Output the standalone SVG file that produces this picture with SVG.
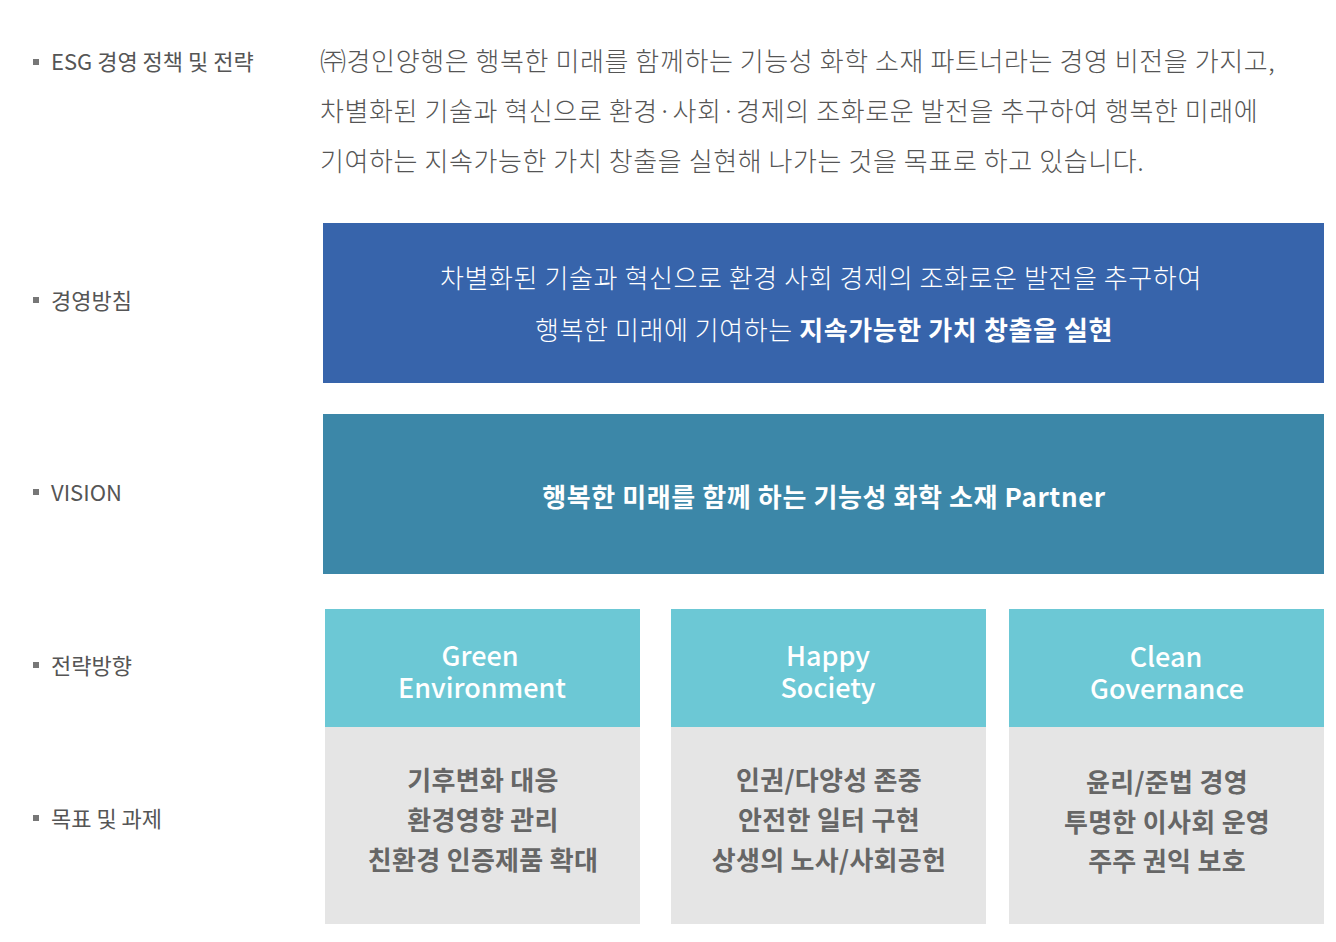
<svg xmlns="http://www.w3.org/2000/svg" width="1336" height="942" viewBox="0 0 1336 942">
<style>
text{font-family:"Noto Sans CJK KR","Noto Sans",sans-serif;}
.lbl{font-size:22px;fill:#555555;}
.bul{fill:#777777;}
.para{font-size:26px;fill:#555555;font-weight:300;letter-spacing:0.6px;}
.wt{fill:#ffffff;font-size:26px;text-anchor:middle;letter-spacing:0.6px;}
.hd{fill:#ffffff;font-size:27px;font-weight:500;text-anchor:middle;}
.bd{fill:#666666;font-size:26px;font-weight:700;text-anchor:middle;letter-spacing:0.3px;}
.hbox{fill:#6CC8D5;}
.bbox{fill:#E5E5E5;}
</style>
<rect width="1336" height="942" fill="#ffffff"/>
<g id="labels">
<rect class="bul" x="33" y="59" width="6" height="6"/>
<text class="lbl" x="51" y="70">ESG 경영 정책 및 전략</text>
<rect class="bul" x="33" y="297" width="6" height="6"/>
<text class="lbl" x="51" y="309">경영방침</text>
<rect class="bul" x="33" y="489" width="6" height="6"/>
<text class="lbl" x="51" y="501">VISION</text>
<rect class="bul" x="33" y="662" width="6" height="6"/>
<text class="lbl" x="51" y="674">전략방향</text>
<rect class="bul" x="33" y="815" width="6" height="6"/>
<text class="lbl" x="51" y="827">목표 및 과제</text>
</g>
<g id="policy">
<text class="para" x="320" y="71">㈜경인양행은 행복한 미래를 함께하는 기능성 화학 소재 파트너라는 경영 비전을 가지고,</text>
<text class="para" x="320" y="121">차별화된 기술과 혁신으로 환경·사회·경제의 조화로운 발전을 추구하여 행복한 미래에</text>
<text class="para" x="320" y="171">기여하는 지속가능한 가치 창출을 실현해 나가는 것을 목표로 하고 있습니다.</text>
</g>
<g id="management">
<rect x="323" y="223" width="1001" height="160" fill="#3764AB"/>
<text class="wt" x="821" y="288" font-weight="300">차별화된 기술과 혁신으로 환경 사회 경제의 조화로운 발전을 추구하여</text>
<text class="wt" x="824" y="340"><tspan font-weight="300">행복한 미래에 기여하는 </tspan><tspan font-weight="700">지속가능한 가치 창출을 실현</tspan></text>
</g>
<g id="vision">
<rect x="323" y="414" width="1001" height="160" fill="#3C87A8"/>
<text class="wt" x="824" y="507" font-weight="700">행복한 미래를 함께 하는 기능성 화학 소재 Partner</text>
</g>
<g id="green">
<rect class="hbox" x="325" y="609" width="315" height="118"/>
<text class="hd"><tspan x="480" y="666">Green</tspan><tspan x="482" y="698">Environment</tspan></text>
<rect class="bbox" x="325" y="727" width="315" height="197"/>
<text class="bd" x="483" y="790">기후변화 대응</text>
<text class="bd" x="483" y="830">환경영향 관리</text>
<text class="bd" x="483" y="870">친환경 인증제품 확대</text>
</g>
<g id="happy">
<rect class="hbox" x="671" y="609" width="315" height="118"/>
<text class="hd"><tspan x="828" y="666">Happy</tspan><tspan x="828" y="698">Society</tspan></text>
<rect class="bbox" x="671" y="727" width="315" height="197"/>
<text class="bd" x="829" y="790">인권/다양성 존중</text>
<text class="bd" x="829" y="830">안전한 일터 구현</text>
<text class="bd" x="829" y="870">상생의 노사/사회공헌</text>
</g>
<g id="clean">
<rect class="hbox" x="1009" y="609" width="315" height="118"/>
<text class="hd"><tspan x="1166" y="667">Clean</tspan><tspan x="1167" y="699">Governance</tspan></text>
<rect class="bbox" x="1009" y="727" width="315" height="197"/>
<text class="bd" x="1167" y="792">윤리/준법 경영</text>
<text class="bd" x="1167" y="832">투명한 이사회 운영</text>
<text class="bd" x="1167" y="871">주주 권익 보호</text>
</g>
<g id="connectors"></g>
</svg>
